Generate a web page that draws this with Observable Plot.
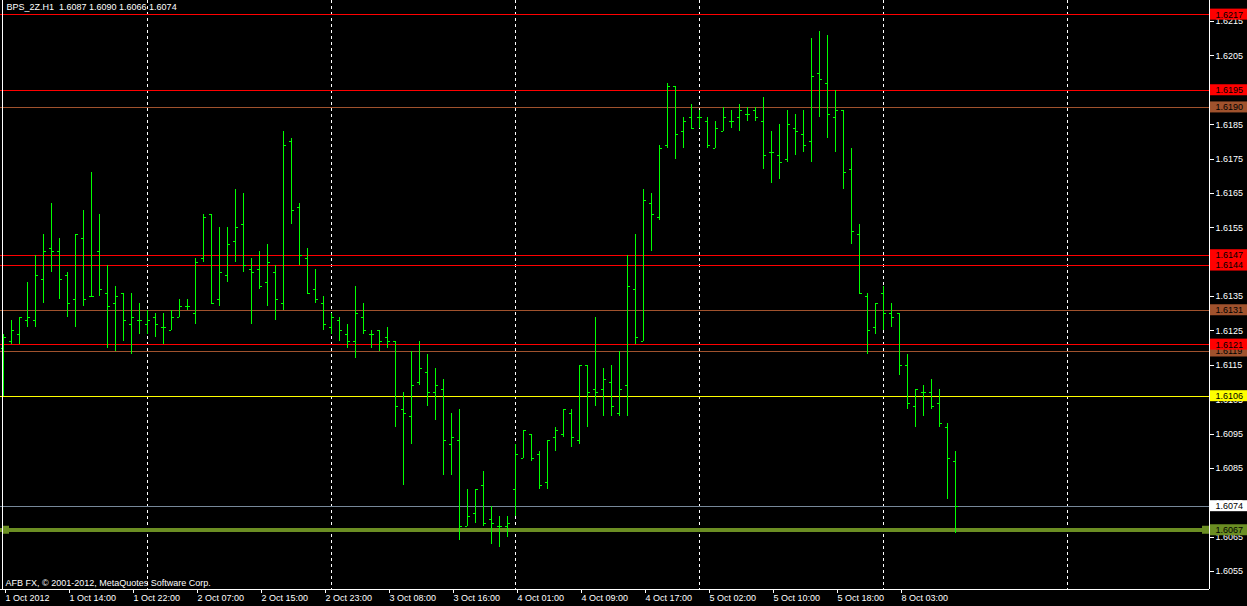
<!DOCTYPE html>
<html>
<head>
<meta charset="utf-8">
<script src="https://cdn.jsdelivr.net/npm/d3@7"></script>
<script src="https://cdn.jsdelivr.net/npm/@observablehq/plot@0.6"></script>
<style>
  html, body { margin: 0; padding: 0; background: #000; overflow: hidden; }
</style>
</head>
<body>
<div id="chart"></div>
<script>
// ---- data ----
const symbol = "BPS_2Z";
const period = "H1";
const copyright = "AFB FX, \u00a9 2001-2012, MetaQuotes Software Corp.";

const opens = [
1.6120,1.6122,1.6124,1.6128,1.6128,1.6140,1.6149,1.6148,1.6141,1.6134,
1.6152,1.6135,1.6148,1.6136,1.6133,1.6136,1.6127,1.6128,1.6127,1.6129,
1.6126,1.6125,1.6129,1.6132,1.6130,1.6146,1.6159,1.6134,1.6141,1.6151,
1.6156,1.6143,1.6143,1.6139,1.6142,1.6133,1.6180,1.6161,1.6146,1.6137,
1.6133,1.6126,1.6128,1.6124,1.6122,1.6129,1.6124,1.6125,1.6123,1.6122,
1.6102,1.6100,1.6110,1.6113,1.6107,1.6108,1.6092,1.6093,1.6068,1.6072,
1.6080,1.6070,1.6068,1.6068,1.6079,1.6088,1.6095,1.6089,1.6081,1.6094,
1.6095,1.6101,1.6093,1.6115,1.6108,1.6108,1.6110,1.6101,1.6109,1.6137,
1.6122,1.6162,1.6158,1.6179,1.6196,1.6183,1.6187,1.6187,1.6186,1.6178,
1.6183,1.6186,1.6187,1.6188,1.6189,1.6186,1.6177,1.6176,1.6175,1.6184,
1.6182,1.6180,1.6200,1.6197,1.6187,1.6189,1.6172,1.6153,1.6135,1.6126,
1.6136,1.6130,1.6130,1.6115,1.6103,1.6107,1.6107,1.6104,1.6097,1.6087];
const highs = [
1.6124,1.6128,1.6129,1.6139,1.6147,1.6153,1.6162,1.6152,1.6142,1.6153,
1.6160,1.6171,1.6159,1.6144,1.6138,1.6136,1.6136,1.6133,1.6131,1.6130,
1.6130,1.6131,1.6134,1.6134,1.6146,1.6159,1.6159,1.6155,1.6155,1.6166,
1.6165,1.6146,1.6148,1.6150,1.6144,1.6183,1.6181,1.6162,1.6149,1.6143,
1.6135,1.6130,1.6129,1.6127,1.6138,1.6133,1.6125,1.6125,1.6126,1.6122,
1.6107,1.6119,1.6122,1.6118,1.6114,1.6111,1.6101,1.6102,1.6079,1.6079,
1.6084,1.6074,1.6071,1.6071,1.6092,1.6096,1.6095,1.6090,1.6093,1.6097,
1.6102,1.6102,1.6115,1.6115,1.6129,1.6114,1.6115,1.6119,1.6147,1.6153,
1.6166,1.6165,1.6179,1.6197,1.6196,1.6187,1.6191,1.6189,1.6187,1.6186,
1.6190,1.6189,1.6191,1.6190,1.6190,1.6193,1.6183,1.6185,1.6189,1.6188,
1.6189,1.6210,1.6212,1.6211,1.6195,1.6189,1.6178,1.6156,1.6136,1.6133,
1.6138,1.6133,1.6130,1.6118,1.6108,1.6109,1.6111,1.6108,1.6098,1.6090];
const lows = [
1.6106,1.6121,1.6121,1.6126,1.6126,1.6133,1.6142,1.6134,1.6129,1.6126,
1.6132,1.6135,1.6135,1.6120,1.6119,1.6122,1.6118,1.6124,1.6124,1.6123,
1.6121,1.6125,1.6129,1.6131,1.6127,1.6145,1.6133,1.6132,1.6139,1.6145,
1.6142,1.6127,1.6137,1.6132,1.6128,1.6131,1.6156,1.6144,1.6136,1.6133,
1.6125,1.6124,1.6122,1.6120,1.6117,1.6124,1.6120,1.6119,1.6120,1.6097,
1.6080,1.6092,1.6109,1.6103,1.6099,1.6083,1.6083,1.6064,1.6068,1.6069,
1.6068,1.6063,1.6062,1.6065,1.6071,1.6088,1.6087,1.6079,1.6079,1.6090,
1.6094,1.6091,1.6092,1.6097,1.6103,1.6100,1.6100,1.6100,1.6100,1.6121,
1.6122,1.6148,1.6157,1.6178,1.6175,1.6178,1.6184,1.6184,1.6178,1.6178,
1.6183,1.6184,1.6183,1.6186,1.6186,1.6172,1.6168,1.6169,1.6174,1.6176,
1.6177,1.6174,1.6187,1.6181,1.6177,1.6166,1.6150,1.6136,1.6118,1.6124,
1.6125,1.6126,1.6112,1.6102,1.6097,1.6100,1.6102,1.6097,1.6076,1.6066];
const closes = [
1.6123,1.6125,1.6129,1.6129,1.6141,1.6148,1.6148,1.6140,1.6133,1.6153,
1.6134,1.6135,1.6137,1.6132,1.6135,1.6128,1.6129,1.6128,1.6128,1.6127,
1.6126,1.6129,1.6132,1.6132,1.6145,1.6158,1.6133,1.6142,1.6150,1.6155,
1.6144,1.6142,1.6138,1.6145,1.6134,1.6179,1.6160,1.6147,1.6136,1.6134,
1.6127,1.6129,1.6125,1.6122,1.6130,1.6125,1.6124,1.6122,1.6122,1.6103,
1.6101,1.6109,1.6114,1.6107,1.6109,1.6093,1.6094,1.6068,1.6071,1.6079,
1.6069,1.6069,1.6068,1.6069,1.6089,1.6096,1.6088,1.6080,1.6093,1.6096,
1.6102,1.6094,1.6115,1.6107,1.6107,1.6111,1.6103,1.6108,1.6138,1.6123,
1.6163,1.6159,1.6178,1.6196,1.6182,1.6186,1.6184,1.6187,1.6179,1.6184,
1.6187,1.6186,1.6189,1.6188,1.6187,1.6176,1.6177,1.6174,1.6185,1.6183,
1.6179,1.6199,1.6198,1.6188,1.6189,1.6171,1.6154,1.6136,1.6125,1.6133,
1.6130,1.6129,1.6115,1.6104,1.6108,1.6107,1.6103,1.6098,1.6088,1.6074];

// x axis: bar index of each labelled tick, and its label
const xTickBars = [0, 8, 16, 24, 32, 40, 48, 56, 64, 72, 80, 88, 96, 104, 112];
const xTickLabels = ["1 Oct 2012","1 Oct 14:00","1 Oct 22:00","2 Oct 07:00","2 Oct 15:00",
  "2 Oct 23:00","3 Oct 08:00","3 Oct 16:00","4 Oct 01:00","4 Oct 09:00",
  "4 Oct 17:00","5 Oct 02:00","5 Oct 10:00","5 Oct 18:00","8 Oct 03:00"];
// bar index where each new trading day starts (period separators)
const daySeparators = [18, 41, 64, 87, 110, 133];
// price axis ticks
const yTicks = [1.6055,1.6065,1.6075,1.6085,1.6095,1.6105,1.6115,1.6125,1.6135,
  1.6145,1.6155,1.6165,1.6175,1.6185,1.6195,1.6205,1.6215];
// horizontal levels
const levelPrices = [1.6217, 1.6195, 1.6190, 1.6147, 1.6144, 1.6131, 1.6121, 1.6119, 1.6106, 1.6074, 1.6067];
const levelKinds  = ["red","red","brown","red","red","brown","red","brown","yellow","bid","stop"];

// ---- styles ----
const kindStyle = {
  red:    {line: "#ff0000", box: "#ff0000", width: 1},
  brown:  {line: "#a0522d", box: "#a0522d", width: 1},
  yellow: {line: "#ffff00", box: "#ffff00", width: 1},
  bid:    {line: "#778899", box: "#ffffff", width: 1},
  stop:   {line: "#6b8e23", box: "#6b8e23", width: 4}
};
const barColor = "#00ff00";
const font = "Liberation Sans, Arial, sans-serif";

// ---- build ----
const bars = opens.map((o, i) => ({i, open: o, high: highs[i], low: lows[i], close: closes[i]}));
const levels = levelPrices.map((p, k) => ({price: p, kind: levelKinds[k]}))
  .sort((a, b) => a.price - b.price);

const W = 1247, H = 606;
const mRight = 38, mBottom = 17;
const pxPerBar = 8;
const xDomain = [-0.375, (W - mRight) / pxPerBar - 0.375];    // 1 bar = 8 px
const pxPerUnit = 34375;                                     // px per 1.0000 of price
const yTop = 1.6215 + 21 / pxPerUnit;
const yBottom = yTop - (H - mBottom) / pxPerUnit;
const px = n => n / pxPerBar;             // pixels -> bar units
const py = n => n / pxPerUnit;            // pixels -> price units
const xRight = xDomain[1];
const last = bars[bars.length - 1];
const title = `${symbol}.${period}\u00a0\u00a0${last.open.toFixed(4)} ${last.high.toFixed(4)} ${last.low.toFixed(4)} ${last.close.toFixed(4)}`;

const levelMarks = levels.flatMap(l => {
  const s = kindStyle[l.kind];
  return [
    Plot.rect([l], {x1: xRight + px(1), x2: xRight + px(38), y1: d => d.price - py(5.5), y2: d => d.price + py(5.5), fill: s.box}),
    Plot.text([l], {x: xRight + px(6), y: "price", text: d => d.price.toFixed(4), fill: "#000", textAnchor: "start", fontSize: 9})
  ];
});

const stop = levels.find(l => l.kind === "stop");

const chart = Plot.plot({
  width: W, height: H,
  marginLeft: 0, marginRight: mRight, marginTop: 0, marginBottom: mBottom,
  style: {background: "#000", color: "#fff", fontFamily: font, fontSize: "9px"},
  x: {type: "linear", domain: xDomain, label: null},
  y: {type: "linear", domain: [yBottom, yTop], label: null},
  marks: [
    // day separators
    Plot.ruleX(daySeparators, {x: d => d, stroke: "#fff", strokeDasharray: "3,3", shapeRendering: "crispEdges"}),
    // level lines
    Plot.ruleY(levels, {y: "price", stroke: d => kindStyle[d.kind].line, strokeWidth: d => kindStyle[d.kind].width, shapeRendering: "crispEdges"}),
    // stop markers at both ends
    Plot.rect([stop], {x1: xDomain[0] + px(3), x2: xDomain[0] + px(9), y1: d => d.price - py(4), y2: d => d.price + py(4), fill: kindStyle.stop.line}),
    Plot.rect([stop], {x1: xRight - px(7), x2: xRight, y1: d => d.price - py(4), y2: d => d.price + py(4), fill: kindStyle.stop.line}),
    // OHLC bars
    Plot.ruleX(bars, {x: "i", y1: "low", y2: "high", stroke: barColor, shapeRendering: "crispEdges"}),
    Plot.ruleY(bars, {y: "open", x1: d => d.i - px(2.5), x2: "i", stroke: barColor, shapeRendering: "crispEdges"}),
    Plot.ruleY(bars, {y: "close", x1: "i", x2: d => d.i + px(2.5), stroke: barColor, shapeRendering: "crispEdges"}),
    // frame
    Plot.ruleX([xDomain[0] + px(2)], {stroke: "#fff", shapeRendering: "crispEdges"}),
    Plot.ruleX([xRight], {stroke: "#fff", shapeRendering: "crispEdges"}),
    Plot.ruleY([yBottom], {stroke: "#fff", x1: xDomain[0], x2: xRight, shapeRendering: "crispEdges"}),
    // axes
    Plot.axisY(yTicks, {anchor: "right", label: null, tickSize: 4, tickPadding: 2, tickFormat: d => d.toFixed(4), color: "#fff", fontSize: 9, shapeRendering: "crispEdges"}),
    Plot.axisX(xTickBars, {anchor: "bottom", label: null, tickSize: 4, tickPadding: 1, tickFormat: d => xTickLabels[xTickBars.indexOf(d)], textAnchor: "start", dx: 2, color: "#fff", fontSize: 9, shapeRendering: "crispEdges"}),
    // level labels
    ...levelMarks,
    // texts
    Plot.text([title], {frameAnchor: "top-left", dx: 6, dy: 3, lineAnchor: "top", textAnchor: "start", fill: "#fff", fontSize: 9}),
    Plot.text([copyright], {frameAnchor: "bottom-left", dx: 5, dy: -4, lineAnchor: "bottom", textAnchor: "start", fill: "#fff", fontSize: 9})
  ]
});
document.getElementById("chart").appendChild(chart);
</script>
</body>
</html>
